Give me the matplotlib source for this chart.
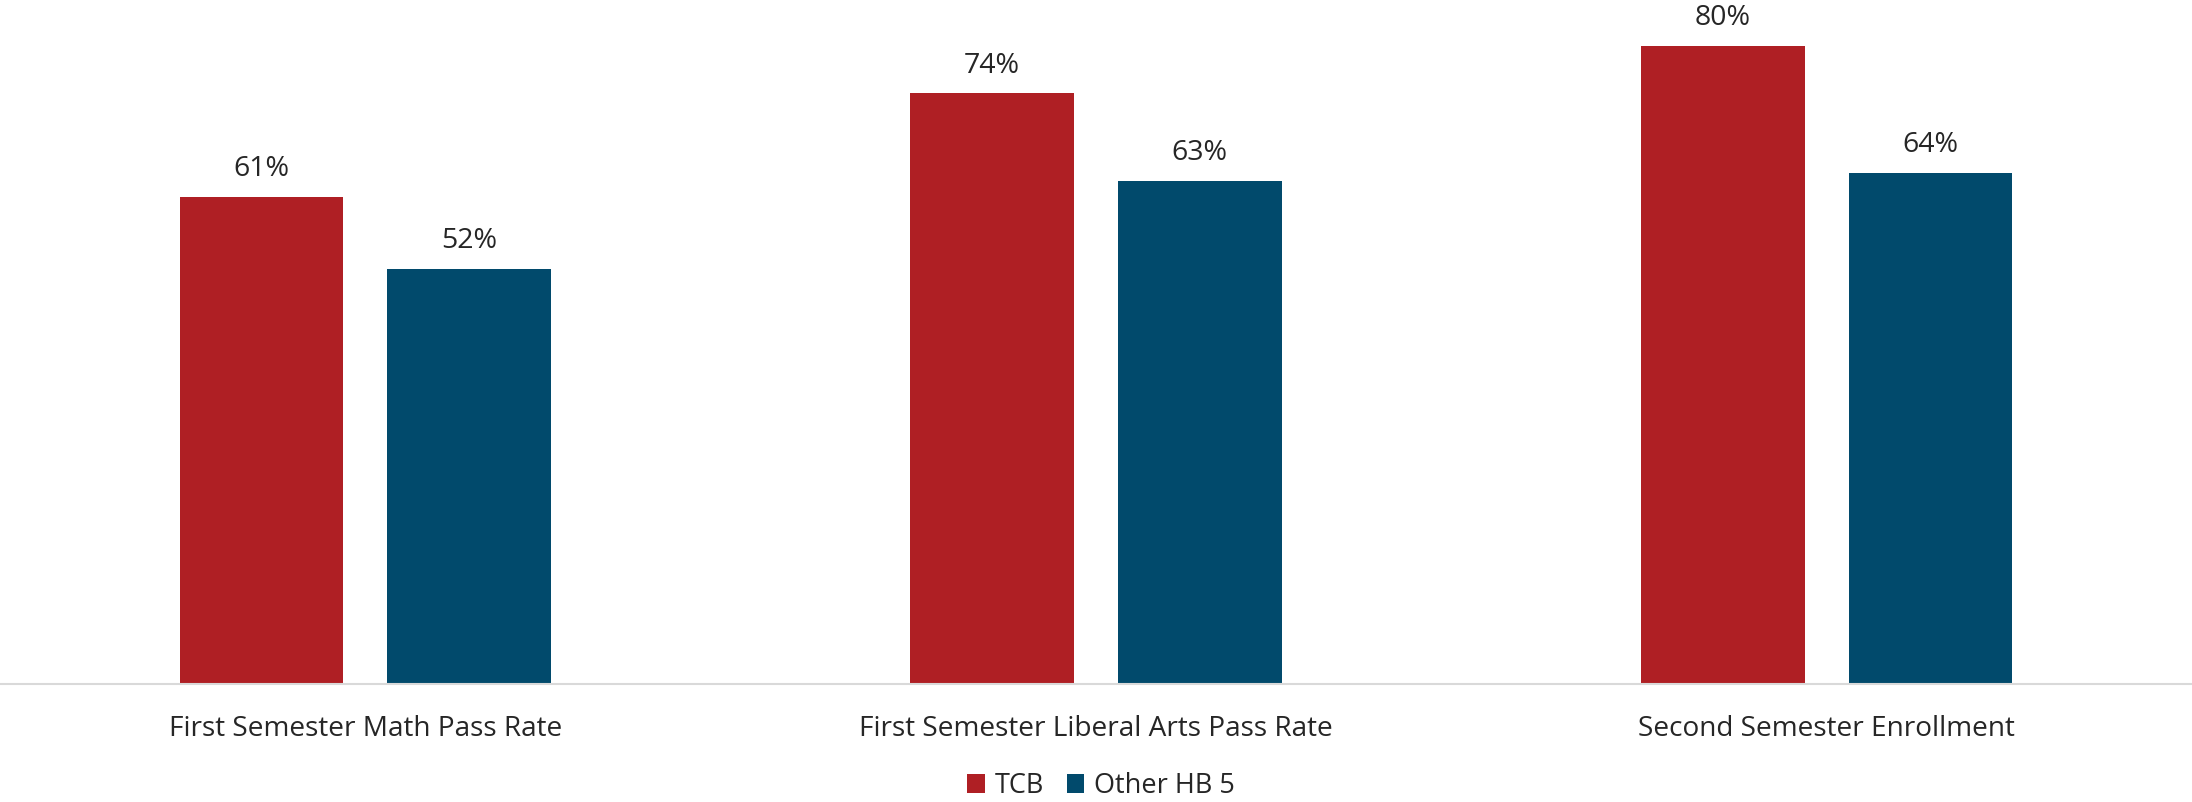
import matplotlib
matplotlib.use("Agg")
import matplotlib.pyplot as plt
import numpy as np

categories = ["First Semester Math Pass Rate", "First Semester Liberal Arts Pass Rate", "Second Semester Enrollment"]
series_names = ["TCB", "Other HB 5"]
tcb = [61, 74, 80]
other = [52, 63, 64]
colors = ["#AF1F24", "#014A6C"]

plt.rcParams['font.family'] = ['Open Sans', 'DejaVu Sans']

fig = plt.figure(figsize=(21.92, 8.02), dpi=100)
ax = fig.add_axes([0, (802-684)/802, 1, 684/802])

x = np.arange(len(categories))
w = 0.224
off = 0.142
b1 = ax.bar(x - off, tcb, w, color=colors[0], label=series_names[0])
b2 = ax.bar(x + off, other, w, color=colors[1], label=series_names[1])

for bars, vals in ((b1, tcb), (b2, other)):
    for rect, v in zip(bars, vals):
        ax.annotate(f"{v}%", (rect.get_x() + rect.get_width()/2, v),
                    xytext=(0, 10), textcoords="offset points",
                    ha="center", va="bottom", fontsize=20.5, color="#262626")

ax.set_xlim(-0.5, 2.5)
ax.set_ylim(0, 684/7.98)
ax.set_xticks(x)
ax.set_xticklabels(categories, fontsize=20.2, color="#262626")
ax.tick_params(axis='x', length=0, pad=22)
ax.set_yticks([])
for s in ["left", "right", "top"]:
    ax.spines[s].set_visible(False)
ax.spines["bottom"].set_color("#D9D9D9")
ax.spines["bottom"].set_linewidth(1.5)

leg = fig.legend(handles=[b1, b2], labels=series_names, loc="center",
                 bbox_to_anchor=(1101/2192, 1 - 786/802), ncol=2, frameon=False,
                 fontsize=19.5, handlelength=0.65, handleheight=0.65,
                 handletextpad=0.35, columnspacing=0.85, labelcolor="#262626")

fig.savefig("out.png", dpi=100)
